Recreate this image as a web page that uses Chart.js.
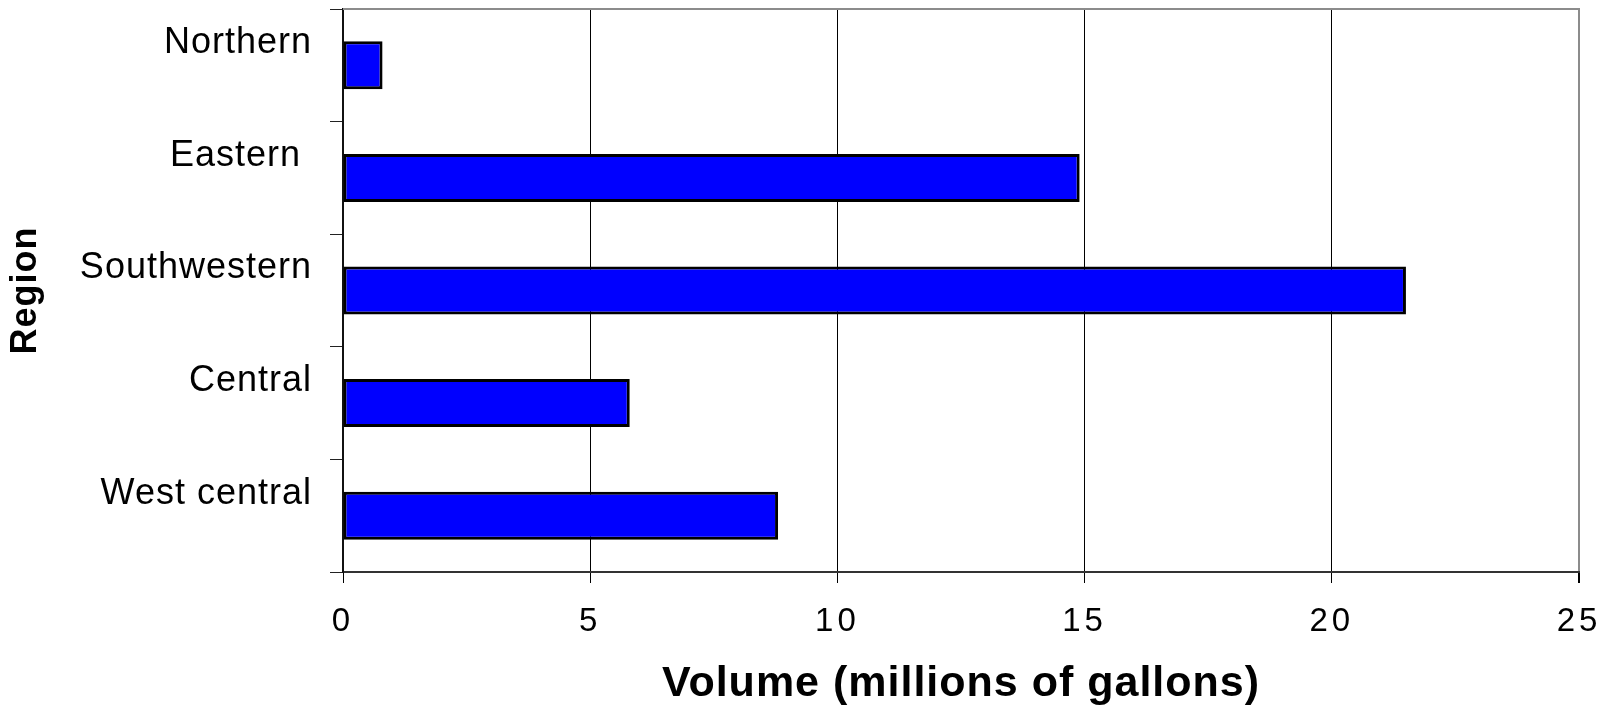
<!DOCTYPE html>
<html>
<head>
<meta charset="utf-8">
<script src="https://cdn.jsdelivr.net/npm/chart.js@4"></script>
<style>
  html, body { margin: 0; padding: 0; background: #ffffff; }
  #wrap { width: 1613px; height: 706px; }
</style>
</head>
<body>
<div id="wrap"><canvas id="chart" width="1613" height="706"></canvas></div>
<script>
// Water volume by region (millions of gallons)
const regions = ['Northern', 'Eastern ', 'Southwestern', 'Central', 'West central'];
const volumes = [0.8, 14.9, 21.5, 5.8, 8.8];
const volumeTicks = [0, 5, 10, 15, 20, 25];
const xTitle = 'Volume (millions of gallons)';
const yTitle = 'Region';

const FONT = '"Liberation Sans", Arial, Helvetica, sans-serif';
const TEXT_SPACING = '1px';
const NUMBER_SPACING = '4px';

// Slightly widened lettering for every text draw on the canvas
const spacing = {
  id: 'spacing',
  beforeLayout(chart) { chart.ctx.letterSpacing = TEXT_SPACING; },
  beforeDraw(chart) { chart.ctx.letterSpacing = TEXT_SPACING; }
};

// Grey top edge of the plot frame
const frame = {
  id: 'frame',
  afterDraw(chart) {
    const { ctx, chartArea: a } = chart;
    ctx.save();
    ctx.strokeStyle = '#8c8c8c';
    ctx.lineWidth = 2;
    ctx.beginPath();
    ctx.moveTo(a.left, a.top);
    ctx.lineTo(a.right + 1, a.top);
    ctx.stroke();
    ctx.restore();
  }
};

// Wider spacing for the numeric tick labels of the value axis
function spaceNumbers(scale) {
  if (scale.__spaced) return;
  scale.__spaced = true;
  const draw = scale.drawLabels;
  scale.drawLabels = function (area) {
    const c = this.ctx;
    const prev = c.letterSpacing;
    c.letterSpacing = NUMBER_SPACING;
    draw.call(this, area);
    c.letterSpacing = prev;
  };
}

new Chart(document.getElementById('chart'), {
  type: 'bar',
  data: {
    labels: regions,
    datasets: [{
      data: volumes,
      backgroundColor: '#0000ff',
      borderColor: '#000000',
      borderWidth: 3,
      borderSkipped: false,
      inflateAmount: 0,
      barPercentage: 0.426,
      categoryPercentage: 1
    }]
  },
  options: {
    indexAxis: 'y',
    responsive: false,
    animation: false,
    events: [],
    layout: { padding: { left: 0, top: 9, right: 34, bottom: 0 } },
    plugins: {
      legend: { display: false },
      tooltip: { enabled: false }
    },
    scales: {
      x: {
        type: 'linear',
        position: 'bottom',
        min: 0,
        max: 25,
        afterBuildTicks(s) { s.ticks = volumeTicks.map(v => ({ value: v })); },
        afterFit(s) {
          s.height = 134;
          s.paddingLeft = 0;
          s.paddingRight = 0;
          spaceNumbers(s);
        },
        border: { display: true, color: '#333333', width: 2 },
        grid: {
          drawOnChartArea: true,
          drawTicks: true,
          tickLength: 11,
          tickColor: '#000000',
          color: ctx => (ctx.tick && ctx.tick.value === 25 ? '#8c8c8c' : '#000000'),
          lineWidth: ctx => (ctx.tick && ctx.tick.value === 25 ? 2 : 1)
        },
        ticks: {
          color: '#000000',
          padding: 22,
          maxRotation: 0,
          font: { family: FONT, size: 33, lineHeight: 1 }
        },
        title: {
          display: true,
          text: xTitle,
          color: '#000000',
          padding: { top: 0, bottom: 0 },
          font: { family: FONT, size: 43, weight: 'bold', lineHeight: 1 }
        }
      },
      y: {
        type: 'category',
        position: 'left',
        afterFit(s) { s.width = 343; s.paddingTop = 0; s.paddingBottom = 0; },
        border: { display: true, color: '#111111', width: 2 },
        grid: {
          offset: true,
          drawOnChartArea: false,
          drawTicks: true,
          tickLength: 13,
          tickColor: '#222222'
        },
        ticks: {
          color: '#000000',
          padding: 18,
          labelOffset: -22,
          autoSkip: false,
          font: { family: FONT, size: 36, lineHeight: 1 }
        },
        title: {
          display: true,
          text: yTitle,
          color: '#000000',
          padding: { top: 8, bottom: 0 },
          font: { family: FONT, size: 36, weight: 'bold', lineHeight: 1 }
        }
      }
    }
  },
  plugins: [spacing, frame]
});
</script>
</body>
</html>
